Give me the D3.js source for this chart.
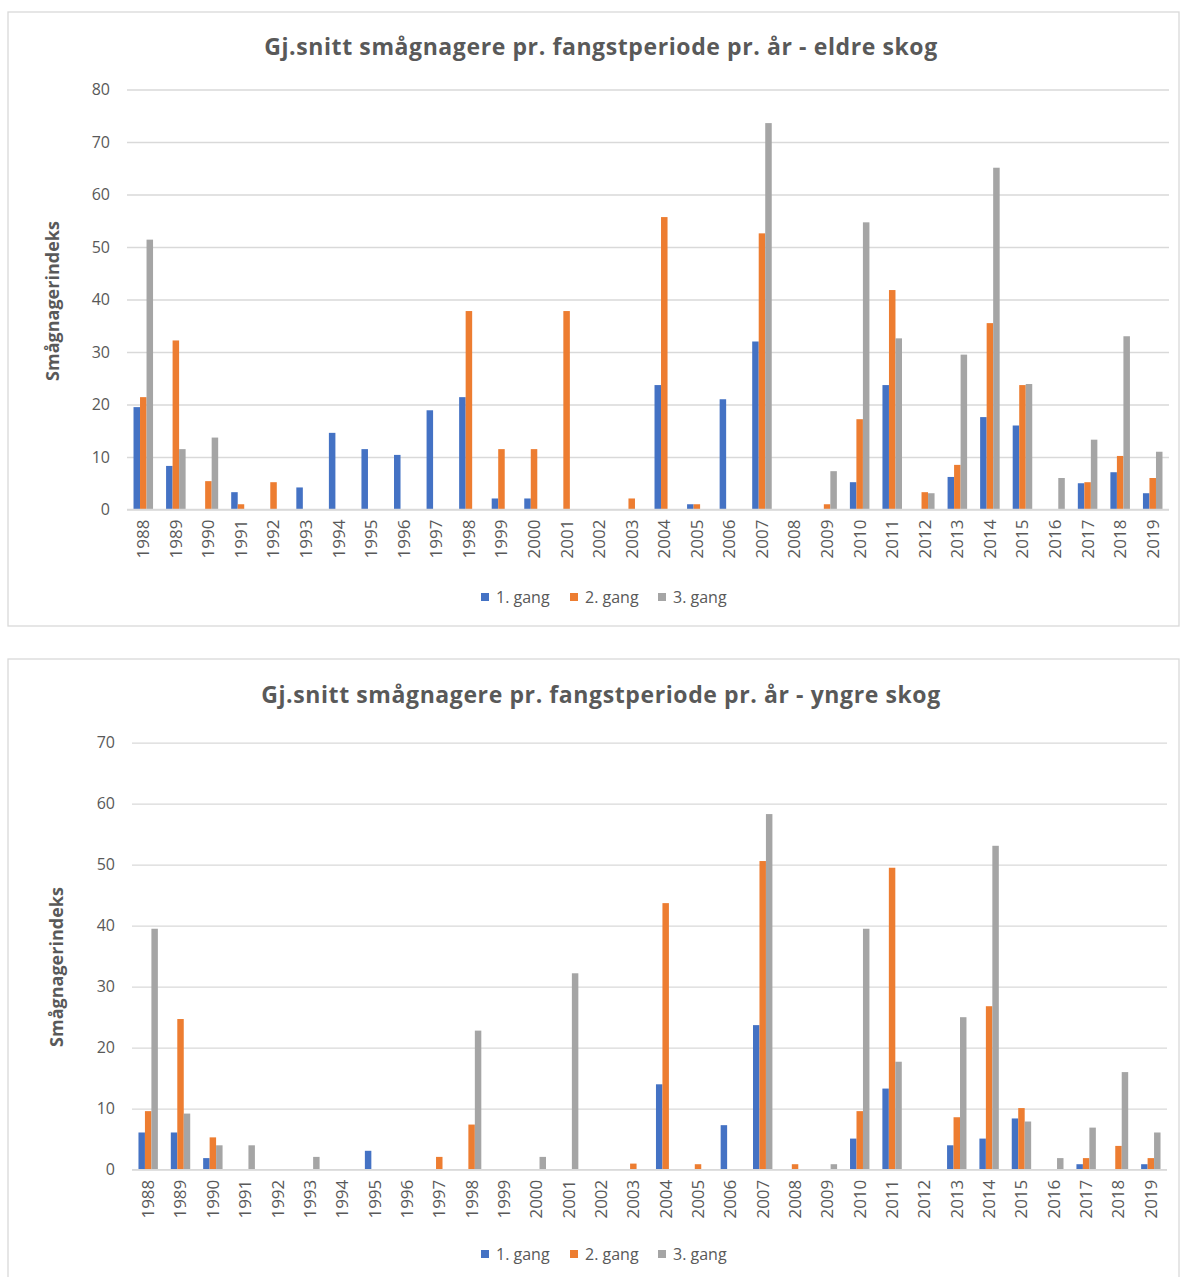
<!DOCTYPE html>
<html>
<head>
<meta charset="utf-8">
<script src="https://cdn.jsdelivr.net/npm/d3@7"></script>
<style>
  body { margin: 0; background: #fff; }
  svg text { font-family: "Open Sans", sans-serif; fill: #595959; }
</style>
</head>
<body>
<svg id="chart" width="1180" height="1277"></svg>
<script>
const years = d3.range(1988, 2020).map(String);
const series = ["1. gang", "2. gang", "3. gang"];
const colors = ["#4472C4", "#ED7D31", "#A5A5A5"];

// eldre skog
const eldre1 = [19.5, 8.3, 0, 3.3, 0, 4.2, 14.6, 11.5, 10.4, 18.9, 21.4, 2.1, 2.1, 0, 0, 0, 23.7, 1.0, 21.0, 32.0, 0, 0, 5.2, 23.7, 0, 6.2, 17.6, 16.0, 0, 5.0, 7.1, 3.1];
const eldre2 = [21.4, 32.2, 5.4, 1.0, 5.2, 0, 0, 0, 0, 0, 37.8, 11.5, 11.5, 37.8, 0, 2.1, 55.7, 1.0, 0, 52.6, 0, 1.0, 17.2, 41.8, 3.3, 8.5, 35.5, 23.7, 0, 5.2, 10.2, 6.0];
const eldre3 = [51.4, 11.5, 13.7, 0, 0, 0, 0, 0, 0, 0, 0, 0, 0, 0, 0, 0, 0, 0, 0, 73.6, 0, 7.3, 54.7, 32.6, 3.1, 29.5, 65.1, 23.9, 6.0, 13.3, 33.0, 11.0];

// yngre skog
const yngre1 = [6.1, 6.1, 1.9, 0, 0, 0, 0, 3.1, 0, 0, 0, 0, 0, 0, 0, 0, 14.0, 0, 7.3, 23.7, 0, 0, 5.1, 13.3, 0, 4.0, 5.1, 8.4, 0, 0.9, 0, 0.9];
const yngre2 = [9.6, 24.7, 5.3, 0, 0, 0, 0, 0, 0, 2.1, 7.4, 0, 0, 0, 0, 1.0, 43.7, 0.9, 0, 50.6, 0.9, 0, 9.6, 49.5, 0, 8.6, 26.8, 10.1, 0, 1.9, 3.9, 1.9];
const yngre3 = [39.5, 9.2, 4.0, 4.0, 0, 2.1, 0, 0, 0, 0, 22.8, 0, 2.1, 32.2, 0, 0, 0, 0, 0, 58.3, 0, 0.9, 39.5, 17.7, 0, 25.0, 53.1, 7.9, 1.9, 6.9, 16.0, 6.1];

const svg = d3.select("#chart");

function drawPanel(p) {
    let g = svg.append("g");

    g.append("rect")
        .attr("x", p.box[0]).attr("y", p.box[1])
        .attr("width", p.box[2]).attr("height", p.box[3])
        .attr("fill", "#fff")
        .attr("stroke", "#D9D9D9")
        .attr("stroke-width", 1.3);

    let x = d3.scaleBand()
        .domain(years)
        .range([p.left, p.right])
        .paddingInner(0.4)
        .paddingOuter(0.2);

    let x1 = d3.scaleBand()
        .domain(series)
        .range([0, x.bandwidth()]);

    let y = d3.scaleLinear()
        .domain([0, p.max])
        .range([p.bottom, p.top]);

    // grid + y labels
    let ya = g.append("g")
        .attr("transform", `translate(${p.left},0)`)
        .call(d3.axisLeft(y).ticks(p.max / 10).tickSize(-(p.right - p.left)).tickPadding(17));
    ya.select(".domain").remove();
    ya.selectAll(".tick line").attr("stroke", "#D9D9D9").attr("stroke-width", 1.3);
    ya.selectAll("text").style("font-size", "16px").style("fill", "#595959");

    // bars
    let data = years.map((yr, i) => ({ year: yr, vals: p.values.map(v => v[i]) }));
    g.selectAll(".grp")
        .data(data)
        .enter()
        .append("g")
        .attr("transform", d => `translate(${x(d.year)},0)`)
        .selectAll("rect")
        .data(d => d.vals.map((v, k) => ({ s: series[k], v: v, k: k })))
        .enter()
        .append("rect")
        .filter(d => d.v > 0)
        .attr("x", d => x1(d.s))
        .attr("y", d => y(d.v))
        .attr("width", x1.bandwidth())
        .attr("height", d => p.bottom - y(d.v))
        .attr("fill", d => colors[d.k]);

    // x axis
    let xa = g.append("g")
        .attr("transform", `translate(0,${p.bottom})`)
        .call(d3.axisBottom(x).tickSize(0).tickSizeOuter(0));
    xa.select(".domain").attr("stroke", "#D9D9D9").attr("stroke-width", 1.3)
        .attr("d", `M${p.left},0H${p.right}`);
    xa.selectAll("text")
        .attr("transform", "rotate(-90)")
        .attr("x", -10)
        .attr("y", 0)
        .attr("dy", "0.35em")
        .style("text-anchor", "end")
        .style("font-size", "17px")
        .style("fill", "#595959");

    // title
    g.append("text")
        .attr("x", 601)
        .attr("y", p.titleY)
        .attr("text-anchor", "middle")
        .style("font-size", "23px")
        .style("letter-spacing", "0.6px")
        .style("font-weight", "bold")
        .text(p.title);

    // y axis title
    g.append("text")
        .attr("transform", `translate(${p.yTitleX},${p.yTitleY}) rotate(-90)`)
        .attr("text-anchor", "middle")
        .attr("dy", "0.35em")
        .style("font-size", "18px")
        .style("font-weight", "bold")
        .text("Smågnagerindeks");

    // legend
    let legX = [481, 570, 658];
    let lg = g.append("g").attr("transform", `translate(0,${p.legendY})`);
    series.forEach((s, i) => {
        lg.append("rect")
            .attr("x", legX[i]).attr("y", -4)
            .attr("width", 8).attr("height", 8)
            .attr("fill", colors[i]);
        lg.append("text")
            .attr("x", legX[i] + 15)
            .attr("y", 0)
            .attr("dy", "0.35em")
            .style("font-size", "16px")
            .text(s);
    });
}

drawPanel({
    box: [8, 12, 1171, 614],
    left: 127, right: 1169, top: 89.5, bottom: 509.5, max: 80,
    titleY: 55, legendY: 597, yTitleX: 53, yTitleY: 301,
    title: "Gj.snitt smågnagere pr. fangstperiode pr. år - eldre skog",
    values: [eldre1, eldre2, eldre3]
});

drawPanel({
    box: [8, 659, 1171, 640],
    left: 132, right: 1167, top: 742.7, bottom: 1169.7, max: 70,
    titleY: 703, legendY: 1254, yTitleX: 57, yTitleY: 967,
    title: "Gj.snitt smågnagere pr. fangstperiode pr. år - yngre skog",
    values: [yngre1, yngre2, yngre3]
});
</script>
</body>
</html>
